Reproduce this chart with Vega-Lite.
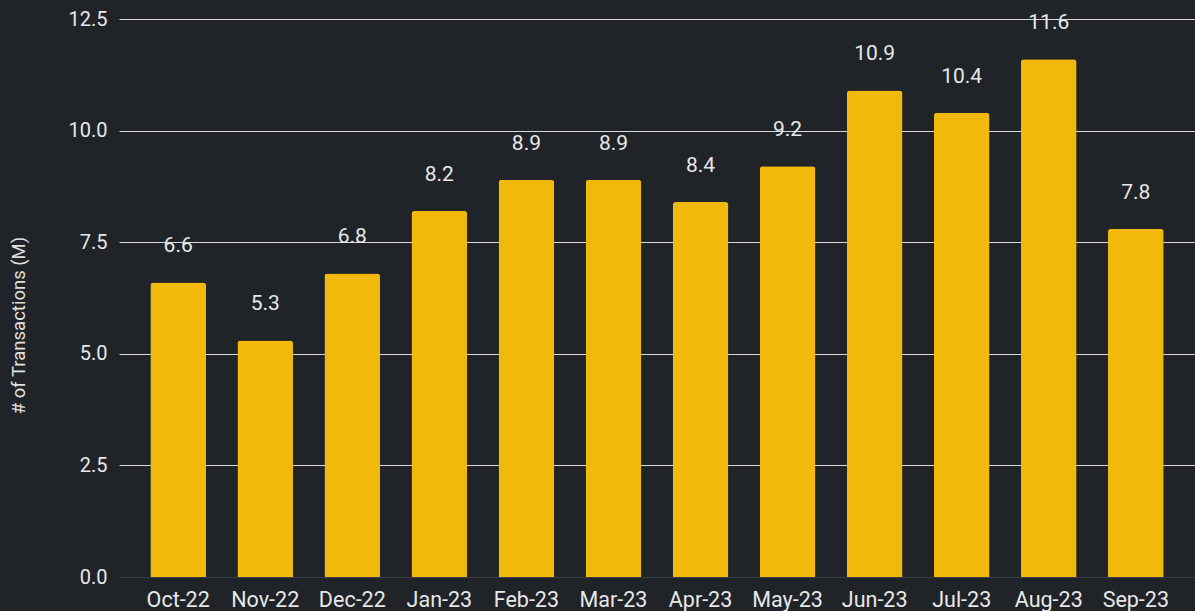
{
  "$schema": "https://vega.github.io/schema/vega-lite/v6.json",
  "width": 1076,
  "height": 558,
  "autosize": {"type": "none"},
  "padding": {"left": 119, "top": 19, "right": 0, "bottom": 34},
  "background": "#202328",
  "config": {
    "view": {"stroke": null},
    "font": "Roboto"
  },
  "data": {
    "values": [
      {"month": "Oct-22", "tx": 6.6},
      {"month": "Nov-22", "tx": 5.3},
      {"month": "Dec-22", "tx": 6.8},
      {"month": "Jan-23", "tx": 8.2},
      {"month": "Feb-23", "tx": 8.9},
      {"month": "Mar-23", "tx": 8.9},
      {"month": "Apr-23", "tx": 8.4},
      {"month": "May-23", "tx": 9.2},
      {"month": "Jun-23", "tx": 10.9},
      {"month": "Jul-23", "tx": 10.4},
      {"month": "Aug-23", "tx": 11.6},
      {"month": "Sep-23", "tx": 7.8}
    ]
  },
  "encoding": {
    "x": {
      "field": "month",
      "type": "nominal",
      "sort": null,
      "scale": {"paddingInner": 0.36, "paddingOuter": 0.36},
      "axis": {
        "title": null,
        "labelAngle": 0,
        "labelFontSize": 21.5,
        "labelColor": "#e8e8e8",
        "labelPadding": 12,
        "ticks": false,
        "domain": true,
        "domainColor": "#3a3d44",
        "domainWidth": 1
      }
    },
    "y": {
      "field": "tx",
      "type": "quantitative",
      "scale": {"domain": [0, 12.5]},
      "axis": {
        "title": "# of Transactions (M)",
        "titleFontSize": 18.5,
        "titleFontWeight": "normal",
        "titleColor": "#e0e0e0",
        "titleX": -101,
        "titleY": 306,
        "titleBaseline": "middle",
        "values": [0, 2.5, 5, 7.5, 10, 12.5],
        "format": ".1f",
        "labelFontSize": 20,
        "labelColor": "#e8e8e8",
        "labelPadding": 12,
        "ticks": false,
        "domain": false,
        "grid": true,
        "gridColor": {"condition": {"test": "datum.value === 0", "value": "#3a3d44"}, "value": "#d8d8d8"},
        "gridWidth": 1.2
      }
    }
  },
  "layer": [
    {
      "mark": {"type": "bar", "color": "#F0B90B", "cornerRadiusTopLeft": 3, "cornerRadiusTopRight": 3}
    },
    {
      "mark": {"type": "text", "dy": -36, "baseline": "middle", "fontSize": 21, "color": "#e8e8e8"},
      "encoding": {
        "text": {"field": "tx", "type": "quantitative", "format": ".1f"}
      }
    }
  ]
}
